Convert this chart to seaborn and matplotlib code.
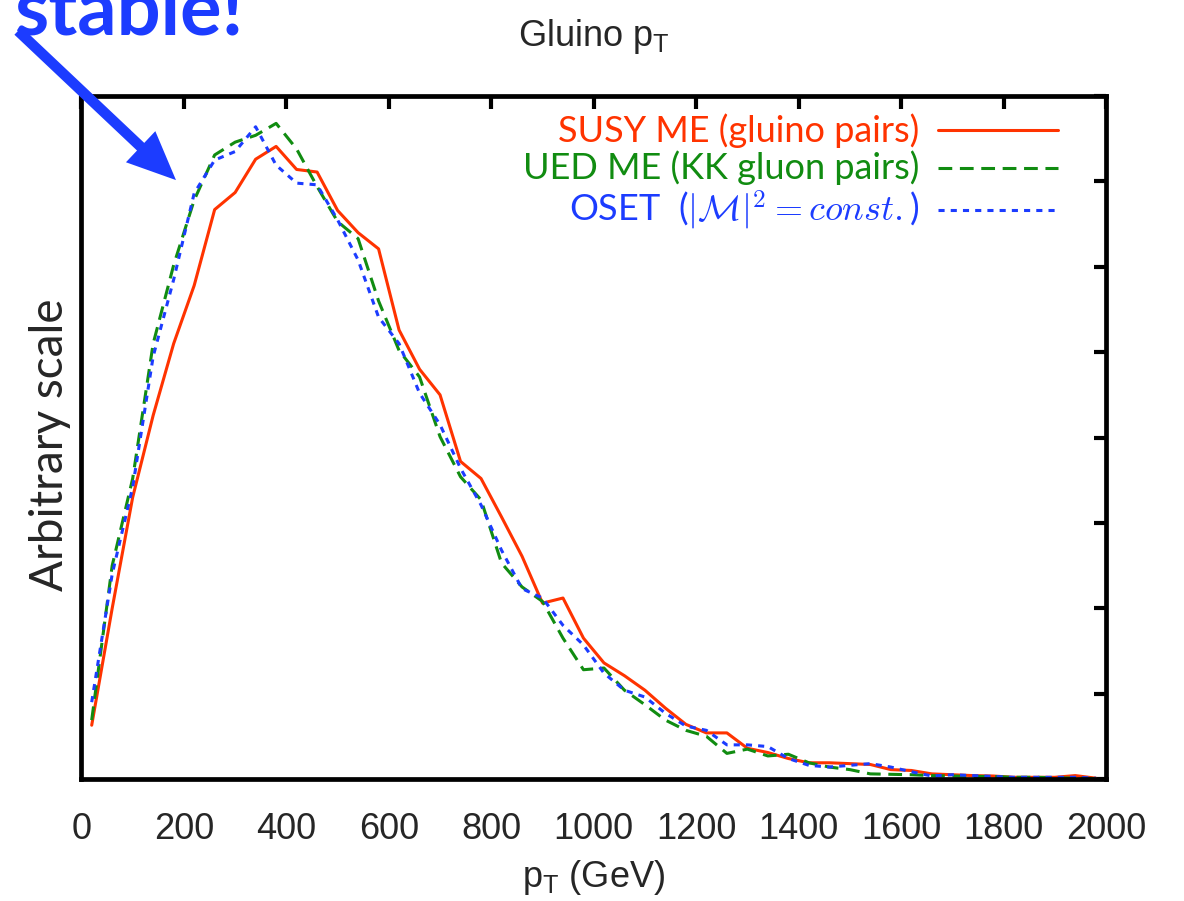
import numpy as np
import pandas as pd
import seaborn as sns
import matplotlib
matplotlib.use("Agg")
import matplotlib.pyplot as plt

# bin centres (GeV) and the three pT curves (arbitrary units)
pt = [20, 60, 100, 140, 180, 220, 260, 300, 340, 380,
      420, 460, 500, 540, 580, 620, 660, 700, 740, 780,
      820, 860, 900, 940, 980, 1020, 1060, 1100, 1140, 1180,
      1220, 1260, 1300, 1340, 1380, 1420, 1460, 1500, 1540, 1580,
      1620, 1660, 1700, 1740, 1780, 1820, 1860, 1900, 1940, 1980]

susy = [0.63, 2.00, 3.30, 4.26, 5.10, 5.78, 6.67, 6.87, 7.26, 7.41,
        7.14, 7.11, 6.66, 6.40, 6.21, 5.26, 4.80, 4.50, 3.72, 3.52,
        3.07, 2.61, 2.06, 2.12, 1.65, 1.36, 1.21, 1.04, 0.83, 0.64,
        0.54, 0.54, 0.36, 0.31, 0.24, 0.19, 0.19, 0.18, 0.17, 0.11,
        0.10, 0.06, 0.05, 0.04, 0.035, 0.02, 0.02, 0.02, 0.04, 0.01]

ued = [0.69, 2.50, 3.52, 5.10, 6.02, 6.78, 7.31, 7.46, 7.54, 7.68,
       7.38, 6.94, 6.53, 6.33, 5.60, 5.02, 4.71, 4.01, 3.54, 3.27,
       2.53, 2.25, 2.08, 1.65, 1.28, 1.30, 1.04, 0.87, 0.69, 0.57,
       0.50, 0.30, 0.35, 0.27, 0.29, 0.19, 0.14, 0.11, 0.06, 0.055,
       0.05, 0.04, 0.035, 0.03, 0.03, 0.02, 0.02, 0.015, 0.01, 0.005]

oset = [0.90, 2.40, 3.42, 4.95, 5.85, 6.86, 7.25, 7.35, 7.64, 7.19,
        6.98, 6.96, 6.55, 6.08, 5.41, 5.10, 4.52, 4.15, 3.64, 3.21,
        2.68, 2.23, 2.12, 1.80, 1.57, 1.24, 1.04, 0.96, 0.77, 0.62,
        0.57, 0.40, 0.40, 0.38, 0.24, 0.16, 0.14, 0.16, 0.18, 0.14,
        0.085, 0.035, 0.05, 0.04, 0.03, 0.02, 0.02, 0.02, 0.02, 0.01]

labels = ["SUSY ME (gluino pairs)",
          "UED ME (KK gluon pairs)",
          r"OSET  ($|\mathcal{M}|^2 = const.$)"]
xticks = [0, 200, 400, 600, 800, 1000, 1200, 1400, 1600, 1800, 2000]

red = "#ff3300"
green = "#118c11"
blue = "#1c3cff"

df = pd.DataFrame({"pt": pt, "susy": susy, "ued": ued, "oset": oset})

sns.set_style("white")
plt.rcParams["font.family"] = ["Liberation Sans", "DejaVu Sans"]
humanist = ["Lato", "DejaVu Sans"]

fig = plt.figure(figsize=(11.84, 9.01), dpi=100)
ax = fig.add_axes([0.0688, 0.1354, 0.8653, 0.758])

sns.lineplot(data=df, x="pt", y="susy", color=red, lw=2.2, ax=ax)
sns.lineplot(data=df, x="pt", y="ued", color=green, lw=2.2,
             linestyle=(0, (4.5, 2.5)), ax=ax)
sns.lineplot(data=df, x="pt", y="oset", color=blue, lw=2.2,
             linestyle=(0, (2, 2)), ax=ax)

ax.set_xlim(0, 2000)
ax.set_ylim(0, 8)
ax.set_xticks(xticks)
ax.set_xticklabels([str(t) for t in xticks], fontsize=26)
ax.set_yticks(range(0, 9))
ax.set_yticklabels([])
ax.tick_params(direction="in", length=9, width=3, top=True, right=True,
               pad=24, color="black")
for s in ax.spines.values():
    s.set_linewidth(3.4)
    s.set_color("black")

ax.set_xlabel("p$_\\mathregular{T}$ (GeV)", fontsize=26, labelpad=8)
ax.set_ylabel("Arbitrary scale", family=humanist, fontsize=33)
ax.yaxis.set_label_coords(-0.010, 0.49)
ax.set_title("Gluino p$_\\mathregular{T}$", fontsize=26, pad=36)

# key, drawn like the gnuplot one: text right-aligned, sample on the right
rows = [0.950, 0.8946, 0.833]
cols = [red, green, blue]
styles = ["-", (0, (4.5, 2.5)), (0, (2, 2))]
for lab, yy, c, ls in zip(labels, rows, cols, styles):
    ax.text(0.818, yy, lab, transform=ax.transAxes, ha="right", va="center",
            color=c, family=humanist, fontsize=26, math_fontfamily="cm")
    ax.plot([0.836, 0.953], [yy, yy], transform=ax.transAxes, color=c,
            lw=2.2, linestyle=ls)

# slide annotation: clipped caption + arrow
fig.text(0.012, 0.962, "stable!", color=blue, fontsize=56, fontweight="bold",
         family=humanist, ha="left", va="baseline")
ax.annotate("", xy=(178, 719), xycoords="figure pixels",
            xytext=(16, 872), textcoords="figure pixels",
            arrowprops=dict(arrowstyle="simple,head_length=1.25,head_width=1.1,tail_width=0.27",
                            mutation_scale=28, color=blue, lw=0),
            annotation_clip=False)

fig.savefig("out.png", dpi=100)
